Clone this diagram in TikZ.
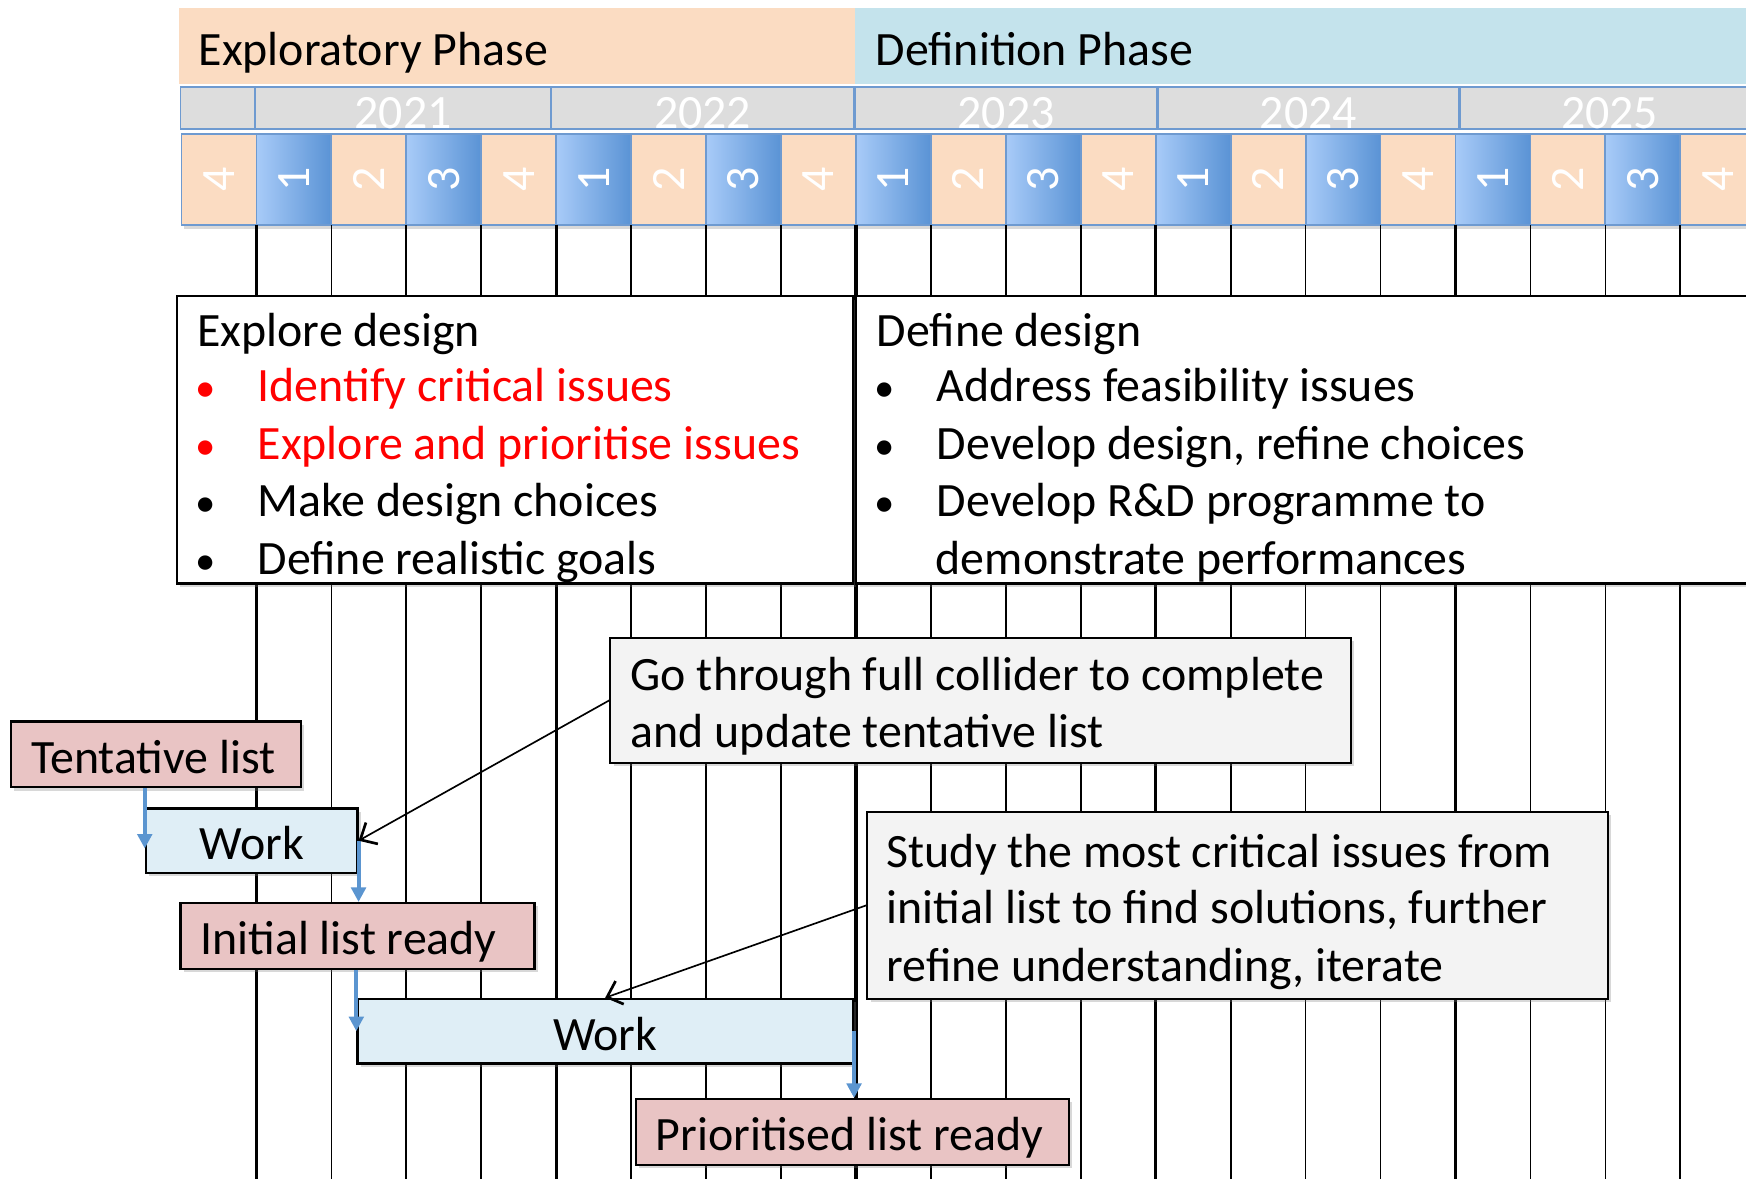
\documentclass[tikz,border=0pt]{standalone}
\usepackage{fontspec}
\setmainfont{Carlito}
\usetikzlibrary{arrows.meta,shadows,calc}
\definecolor{peach}{HTML}{FBDCC2}
\definecolor{bandblue}{HTML}{C4E3EC}
\definecolor{yeargray}{HTML}{DDDDDD}
\definecolor{cellborder}{HTML}{6E9AD0}
\definecolor{blueL}{HTML}{A8CBF8}
\definecolor{blueR}{HTML}{5A93D5}
\definecolor{pinkbox}{HTML}{E9C4C4}
\definecolor{workblue}{HTML}{DFEEF6}
\definecolor{callgray}{HTML}{F3F3F3}
\definecolor{arrowblue}{HTML}{5B95D0}
\newcommand{\figfont}{\fontsize{21.5pt}{25.7pt}\selectfont}
\newcommand{\bul}{\makebox[27pt][l]{\hspace*{-1pt}\scalebox{0.85}{\textbullet}}}
\begin{document}
\begin{tikzpicture}[x=0.5pt,y=-0.5pt,font=\figfont,
  every node/.style={inner sep=0pt},
  txt/.style={anchor=base west},
  shadowed/.style={drop shadow={shadow xshift=1.5pt,shadow yshift=-1.5pt,opacity=0.3}},
  bigbox/.style={draw=black,line width=1pt,fill=white,shadowed},
  callbox/.style={draw=black,line width=0.9pt,fill=callgray,shadowed},
  listbox/.style={draw=black,line width=1pt,fill=pinkbox,shadowed,text height=17pt,text depth=0pt,inner xsep=9pt},
  workbox/.style={draw=black,line width=1pt,fill=workblue,shadowed,text height=17pt,text depth=0pt},
  bluearr/.style={draw=arrowblue,line width=1.75pt,-{Triangle[length=6.5pt,width=6.5pt]}},
  blkarr/.style={draw=black,line width=0.75pt,-{Straight Barb[length=6pt,width=11pt,line width=1.2pt]}},
  yearcell/.style={draw=cellborder,line width=0.8pt,fill=yeargray},
  qpeach/.style={draw=cellborder,line width=0.8pt,fill=peach},
  qblue/.style={draw=cellborder,line width=0.8pt,left color=blueL,right color=blueR},
]
\useasboundingbox (0,0) rectangle (1568,1059);
\clip (0,0) rectangle (1568,1059);
\fill[white] (0,0) rectangle (1568,1059);
% phase bands
\node[fill=peach,anchor=north west,minimum width=303.5pt,minimum height=34pt] (expband) at (160,7) {};
\node[fill=bandblue,anchor=north west,minimum width=420pt,minimum height=34pt] (defband) at (767,7) {};
\node[txt] (exptitle) at (178,59) {Exploratory Phase};
\node[txt] (deftitle) at (786,59) {Definition Phase};
% year row
\path[yearcell] (162,78) rectangle (229,116);
\foreach \a/\b/\t [count=\i] in {229/495/2021,495/767/2022,768/1039/2023,1040/1310/2024,1311/1580/2025} {
  \path[yearcell] (\a,78) rectangle (\b,116);
  \node[anchor=base,text=white] (yr\i) at ({(\a+\b)/2},115) {\t};
}
% quarter row
\fill[black,opacity=0.15] (165,123) rectangle (1580,206);
\foreach \k in {0,...,20} {
  \pgfmathtruncatemacro{\q}{mod(\k+3,4)+1}
  \pgfmathsetmacro{\xa}{163+67.3*\k}
  \pgfmathsetmacro{\xb}{\xa+67.3}
  \ifodd\q \path[qblue] (\xa,120) rectangle (\xb,202); \else \path[qpeach] (\xa,120) rectangle (\xb,202); \fi
  \node[rotate=90,text=white] (q\k) at ({(\xa+\xb)/2},161) {\q};
}
% grid lines
\foreach \k in {1,...,20} {
  \pgfmathtruncatemacro{\m}{mod(\k,4)}
  \pgfmathsetmacro{\xx}{163+67.3*\k}
  \ifnum\m=1 \draw[line width=1.5pt] (\xx,202) -- (\xx,1059); \else \draw[line width=0.75pt] (\xx,202) -- (\xx,1059); \fi
}
% phase boxes
\node[bigbox,minimum width=303.5pt,minimum height=129pt] (explore) at (462.5,395) {};
\node[bigbox,minimum width=420pt,minimum height=129pt] (define) at (1189,395) {};
\node[txt] (ex0) at (177,311) {Explore design};
\node[txt,text=red] (ex1) at (177,361) {\bul Identify critical issues};
\node[txt,text=red] (ex2) at (177,413) {\bul Explore and prioritise issues};
\node[txt] (ex3) at (177,464) {\bul Make design choices};
\node[txt] (ex4) at (177,516) {\bul Define realistic goals};
\node[txt] (df0) at (787,311) {Define design};
\node[txt] (df1) at (787,361) {\bul Address feasibility issues};
\node[txt] (df2) at (787,413) {\bul Develop design, refine choices};
\node[txt] (df3) at (787,464) {\bul Develop R\&D programme to};
\node[txt] (df4) at (840,516) {demonstrate performances};
% callouts
\node[callbox,minimum width=332.5pt,minimum height=56pt] (c1) at (880.5,629) {};
\node[txt] (c1a) at (566,620) {Go through full collider to complete};
\node[txt] (c1b) at (566,671) {and update tentative list};
\node[callbox,minimum width=332.5pt,minimum height=84pt] (c2) at (1111.5,813) {};
\node[txt] (c2a) at (796,779) {Study the most critical issues from};
\node[txt] (c2b) at (796,829) {initial list to find solutions, further};
\node[txt] (c2c) at (796,881) {refine understanding, iterate};
% list and work boxes
\node[listbox,minimum height=29.5pt] (tent) at (140,677.5) {\makebox[112pt][l]{Tentative list}};
\node[workbox,minimum width=95pt,minimum height=29pt] (w1) at (226,755) {Work};
\node[listbox,minimum height=29.5pt] (init) at (321,840.5) {\makebox[141pt][l]{Initial list ready}};
\node[workbox,minimum width=222.5pt,minimum height=29pt] (w2) at (543.5,926) {Work};
\node[listbox,minimum height=29.5pt] (prio) at (765.5,1016.5) {\makebox[176.5pt][l]{Prioritised list ready}};
% arrows
\draw[bluearr] (tent.south -| w1.west) -- ($(w1.west)+(0,7)$);
\draw[bluearr] (w1.east) -- (init.north -| w1.east);
\draw[bluearr] (init.south -| w2.west) -- (w2.west);
\draw[bluearr] (w2.east) -- (prio.north -| w2.east);
\draw[blkarr] (c1.west) -- (w1.east);
\draw[blkarr] (c2.west) -- (w2.north);
\end{tikzpicture}
\end{document}
